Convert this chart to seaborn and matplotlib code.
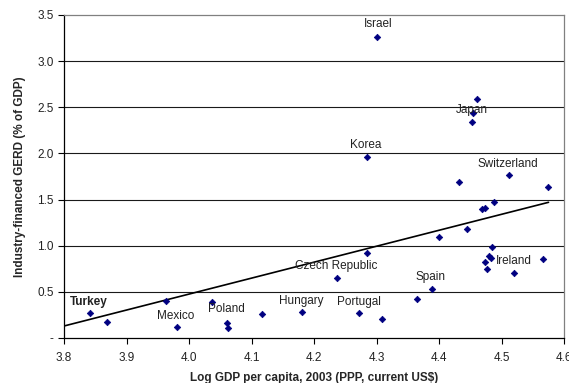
import seaborn as sns
import matplotlib.pyplot as plt
from matplotlib.ticker import FixedLocator

# Log GDP per capita (x) and industry-financed GERD, % of GDP (y)
log_gdp = [3.842, 3.869, 3.963, 3.980, 4.037, 4.061, 4.063, 4.117,
           4.180, 4.236, 4.272, 4.284, 4.308, 4.365, 4.389, 4.400,
           4.444, 4.469, 4.473, 4.487, 4.484, 4.480, 4.483, 4.474,
           4.477, 4.520, 4.566, 4.301, 4.460, 4.454, 4.452, 4.284,
           4.432, 4.511, 4.574]
gerd = [0.268, 0.177, 0.400, 0.119, 0.387, 0.166, 0.108, 0.257,
        0.285, 0.647, 0.267, 0.917, 0.206, 0.419, 0.527, 1.098,
        1.177, 1.398, 1.405, 1.477, 0.986, 0.892, 0.870, 0.827,
        0.744, 0.708, 0.856, 3.264, 2.586, 2.434, 2.337, 1.958,
        1.687, 1.766, 1.633]

# linear trend as drawn in the original (end points)
trend_x = [3.8, 4.575]
trend_y = [0.13, 1.47]

# country labels and where they sit
label_names = ["Israel", "Japan", "Korea", "Switzerland", "Czech Republic",
               "Spain", "Ireland", "Hungary", "Portugal", "Poland",
               "Mexico", "Turkey"]
label_x = [4.303, 4.452, 4.283, 4.510, 4.236, 4.387, 4.520, 4.180,
           4.271, 4.060, 3.978, 3.840]
label_y = [3.40, 2.47, 2.09, 1.89, 0.78, 0.66, 0.83, 0.40,
           0.39, 0.31, 0.24, 0.39]

x_ticks = [3.8, 3.9, 4.0, 4.1, 4.2, 4.3, 4.4, 4.5, 4.6]
y_ticks = [0, 0.5, 1.0, 1.5, 2.0, 2.5, 3.0, 3.5]
y_tick_labels = ["-", "0.5", "1.0", "1.5", "2.0", "2.5", "3.0", "3.5"]

sns.set_style("white")
plt.rcParams['font.family'] = ['Liberation Sans', 'DejaVu Sans']

fig = plt.figure(figsize=(5.69, 3.83), dpi=100)
ax = fig.add_axes([0.1125, 0.1175, 0.879, 0.8435])

# horizontal grid lines
for yv in y_ticks[1:-1]:
    ax.axhline(yv, color="#1a1a1a", lw=0.8, zorder=1)

sns.scatterplot(x=log_gdp, y=gerd, ax=ax, marker="D", s=11,
                color="#000080", edgecolor="#000080", linewidth=0.5, zorder=3)

sns.lineplot(x=trend_x, y=trend_y, ax=ax, color="black", lw=1.2, zorder=2)

for name, lx, ly in zip(label_names, label_x, label_y):
    ax.text(lx, ly, name, ha="center", va="center", fontsize=8.5,
            color="#222222", fontweight="bold" if name == "Turkey" else "normal",
            zorder=4)

ax.set_xlim(3.8, 4.6)
ax.set_ylim(0, 3.5)
ax.xaxis.set_major_locator(FixedLocator(x_ticks))
ax.set_yticks(y_ticks)
ax.set_yticklabels(y_tick_labels)
ax.tick_params(axis="both", direction="out", length=4, width=0.8,
               labelsize=8.5, colors="black", labelcolor="#222222",
               bottom=True, left=True)
ax.tick_params(axis="x", pad=6)

for side in ["top", "right"]:
    ax.spines[side].set_color("#808080")
    ax.spines[side].set_linewidth(0.9)
for side in ["left", "bottom"]:
    ax.spines[side].set_color("black")
    ax.spines[side].set_linewidth(0.9)

ax.set_xlabel("Log GDP per capita, 2003 (PPP, current US$)", fontsize=8.5,
              fontweight="bold", labelpad=6)
ax.set_ylabel("Industry-financed GERD (% of GDP)", fontsize=8.5,
              fontweight="bold", labelpad=8)

fig.savefig("out.png", dpi=100)
